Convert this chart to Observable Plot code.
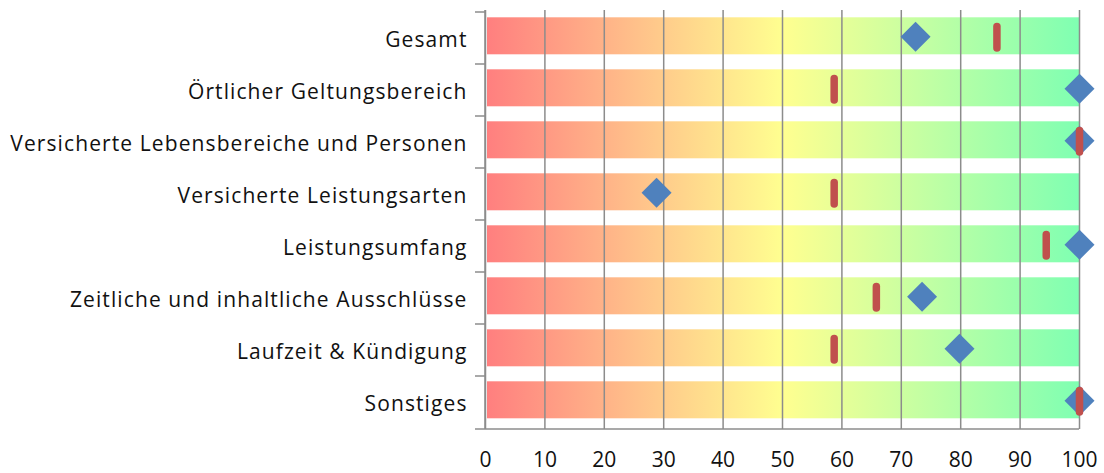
<!DOCTYPE html>
<html>
<head>
<meta charset="utf-8">
<script src="https://cdn.jsdelivr.net/npm/d3@7"></script>
<script src="https://cdn.jsdelivr.net/npm/@observablehq/plot@0.6"></script>
<style>
  html, body { margin: 0; padding: 0; background: #fff; }
  svg { display: block; }
  .yax text { letter-spacing: 1.1px; }
</style>
</head>
<body>
<div id="chart"></div>
<script>
const categories = [
  "Gesamt",
  "Örtlicher Geltungsbereich",
  "Versicherte Lebensbereiche und Personen",
  "Versicherte Leistungsarten",
  "Leistungsumfang",
  "Zeitliche und inhaltliche Ausschlüsse",
  "Laufzeit & Kündigung",
  "Sonstiges"
];
const diamondValues = [72.4, 100, 100, 28.8, 100, 73.5, 79.8, 100];
const markerValues = [86.1, 58.7, 100, 58.7, 94.4, 65.8, 58.7, 100];
const xTicks = [0, 10, 20, 30, 40, 50, 60, 70, 80, 90, 100];

const rows = categories.map((c, i) => ({cat: c, diamond: diamondValues[i], marker: markerValues[i]}));

const gradientStops = [
  [0, "#ff7f7f"], [0.25, "#ffc08a"], [0.5, "#ffff90"], [0.75, "#c0ffa4"], [1, "#7fffb2"]
];

const font = "'Open Sans', Lato, sans-serif";

const defsMark = () => {
  const svgNS = "http://www.w3.org/2000/svg";
  const defs = document.createElementNS(svgNS, "defs");
  const lg = document.createElementNS(svgNS, "linearGradient");
  lg.setAttribute("id", "bandGrad");
  lg.setAttribute("x1", "0"); lg.setAttribute("x2", "1");
  lg.setAttribute("y1", "0"); lg.setAttribute("y2", "0");
  for (const [o, c] of gradientStops) {
    const s = document.createElementNS(svgNS, "stop");
    s.setAttribute("offset", o);
    s.setAttribute("stop-color", c);
    lg.appendChild(s);
  }
  defs.appendChild(lg);
  return defs;
};

const axisMark = (index, scales, values, dimensions) => {
  const svgNS = "http://www.w3.org/2000/svg";
  const g = document.createElementNS(svgNS, "g");
  const {marginLeft, marginTop, marginBottom, marginRight, width, height} = dimensions;
  const y = scales.y;
  const x0 = marginLeft;
  const yb = height - marginBottom;
  const line = (a, b, c, d) => {
    const l = document.createElementNS(svgNS, "line");
    l.setAttribute("x1", a); l.setAttribute("y1", b);
    l.setAttribute("x2", c); l.setAttribute("y2", d);
    l.setAttribute("stroke", "#8c8c8c");
    l.setAttribute("stroke-width", 1.5);
    g.appendChild(l);
  };
  line(x0, marginTop, x0, yb);
  line(x0, yb, width - marginRight, yb);
  categories.forEach(c => line(x0 - 10, y(c), x0, y(c)));
  line(x0 - 10, yb, x0, yb);
  return g;
};

const plot = Plot.plot({
  width: 1104,
  height: 473,
  marginLeft: 485,
  marginRight: 25,
  marginTop: 10,
  marginBottom: 44,
  style: {fontFamily: font, fontSize: "20px", color: "#111", background: "#fff"},
  x: {domain: [0, 100], label: null},
  y: {domain: categories, paddingInner: 0, paddingOuter: 0, label: null},
  marks: [
    defsMark,
    Plot.barX(rows, {y: "cat", x1: 0, x2: 100, fill: "url(#bandGrad)", insetLeft: 2, insetTop: 5.3, insetBottom: 9.7}),
    Plot.ruleX(xTicks, {stroke: "#8c8c8c", strokeWidth: 1.5}),
    axisMark,
    Plot.axisY({tickSize: 0, tickPadding: 18, className: "yax", fontSize: 21, dy: 2}),
    Plot.axisX({ticks: xTicks, tickSize: 0, tickPadding: 23, fontSize: 21}),
    Plot.dot(rows, {y: "cat", x: "diamond", symbol: "diamond2", r: 13.5, fill: "#4f81bd", stroke: "none", dy: -1.7}),
    Plot.tickX(rows, {y: "cat", x: "marker", stroke: "#c0504d", strokeWidth: 7.5, strokeLinecap: "round", insetTop: 14.5, insetBottom: 16.1})
  ]
});
document.getElementById("chart").appendChild(plot);
</script>
</body>
</html>
